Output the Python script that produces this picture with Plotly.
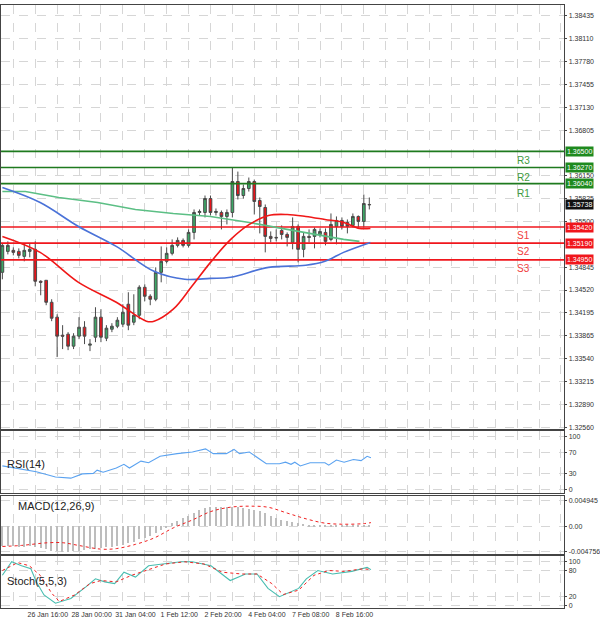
import plotly.graph_objects as go

# H4 bars, index 0..67
opens = [1.34773, 1.35072, 1.35087, 1.35072, 1.35001, 1.35072, 1.35101, 1.34645, 1.34659, 1.34345,
         1.34132, 1.33875, 1.33889, 1.33718, 1.33861, 1.33989, 1.33732, 1.33846, 1.34132, 1.33832,
         1.33960, 1.34003, 1.34032, 1.34317, 1.34060, 1.34160, 1.34559, 1.34431, 1.34388, 1.34773,
         1.34930, 1.35044, 1.35158, 1.35229, 1.35158, 1.35343, 1.35628, 1.35628, 1.35827, 1.35628,
         1.35628, 1.35571, 1.35628, 1.36070, 1.35870, 1.35970, 1.36070, 1.35799, 1.35699, 1.35286,
         1.35272, 1.35371, 1.35314, 1.35200, 1.35428, 1.35101, 1.35286, 1.35286, 1.35314, 1.35343,
         1.35243, 1.35428, 1.35514, 1.35485, 1.35443, 1.35571, 1.35500, 1.35742]
highs = [1.35186, 1.35215, 1.35129, 1.35115, 1.35186, 1.35186, 1.35215, 1.34659, 1.34659, 1.34388,
         1.34174, 1.34018, 1.33918, 1.33903, 1.34132, 1.34075, 1.33818, 1.34274, 1.34246, 1.34018,
         1.34046, 1.34132, 1.34317, 1.34488, 1.34459, 1.34588, 1.34602, 1.34459, 1.34844, 1.35143,
         1.35129, 1.35243, 1.35272, 1.35257, 1.35386, 1.35671, 1.35671, 1.35870, 1.35870, 1.35685,
         1.35656, 1.35671, 1.36269, 1.36212, 1.36027, 1.36127, 1.36098, 1.35842, 1.35742, 1.35357,
         1.35386, 1.35443, 1.35343, 1.35557, 1.35457, 1.35343, 1.35386, 1.35414, 1.35400, 1.35400,
         1.35614, 1.35571, 1.35557, 1.35528, 1.35614, 1.35585, 1.35884, 1.35842]
lows = [1.34673, 1.35029, 1.35015, 1.34972, 1.34930, 1.34987, 1.34573, 1.34445, 1.34303, 1.34075,
        1.33562, 1.33676, 1.33661, 1.33676, 1.33818, 1.33747, 1.33647, 1.33775, 1.33775, 1.33790,
        1.33918, 1.33975, 1.33989, 1.33946, 1.34018, 1.34103, 1.34360, 1.34303, 1.34360, 1.34630,
        1.34901, 1.35015, 1.35129, 1.35129, 1.35129, 1.35243, 1.35585, 1.35557, 1.35585, 1.35585,
        1.35386, 1.35457, 1.35557, 1.35813, 1.35827, 1.35927, 1.35599, 1.35329, 1.35058, 1.35200,
        1.35215, 1.35243, 1.35143, 1.35101, 1.34915, 1.34987, 1.35200, 1.35115, 1.35272, 1.35158,
        1.35215, 1.35172, 1.35386, 1.35329, 1.35414, 1.35414, 1.35414, 1.35671]
closes = [1.35158, 1.35158, 1.35058, 1.35015, 1.35087, 1.35101, 1.34645, 1.34630, 1.34345, 1.34117,
          1.33861, 1.33861, 1.33718, 1.33861, 1.33989, 1.33861, 1.33747, 1.34132, 1.33846, 1.33975,
          1.34003, 1.34089, 1.34203, 1.34018, 1.34160, 1.34559, 1.34431, 1.34388, 1.34773, 1.34930,
          1.35044, 1.35158, 1.35229, 1.35158, 1.35343, 1.35628, 1.35642, 1.35827, 1.35628, 1.35642,
          1.35571, 1.35628, 1.36070, 1.35870, 1.35970, 1.36070, 1.35785, 1.35713, 1.35286, 1.35257,
          1.35265, 1.35314, 1.35272, 1.35428, 1.35101, 1.35286, 1.35272, 1.35386, 1.35357, 1.35215,
          1.35457, 1.35514, 1.35428, 1.35428, 1.35571, 1.35500, 1.35756, 1.35738]
bars = list(range(len(closes)))

# moving averages
ma_red_x = [0, 6.9, 13.9, 20.8, 26.3, 27.7, 31.2, 34.6, 38, 41.7, 45.1, 48.6, 52, 55.4, 58.9, 62.3, 65.2, 67.2]
ma_red = [1.35286, 1.35058, 1.34630, 1.34345, 1.34075, 1.34075, 1.34246, 1.34573, 1.34915, 1.35243,
          1.35457, 1.35585, 1.35599, 1.35571, 1.35528, 1.35485, 1.35400, 1.35400]
ma_blue_x = [0, 6.9, 13.9, 20.8, 27.7, 33.3, 38, 41.7, 48.6, 55.4, 58.9, 62.3, 67.2]
ma_blue = [1.35984, 1.35770, 1.35428, 1.35143, 1.34787, 1.34673, 1.34687, 1.34702, 1.34844, 1.34873,
           1.34930, 1.35058, 1.35200]
ma_green_x = [0, 4.2, 10.3, 17.4, 24.3, 31.2, 38, 45.1, 52, 58.9, 62.3, 65.2]
ma_green = [1.35927, 1.35927, 1.35842, 1.35770, 1.35671, 1.35614, 1.35571, 1.35485, 1.35386, 1.35286,
            1.35243, 1.35215]

# pivot levels
res_names = ["R3", "R2", "R1"]
res_levels = [1.36500, 1.36270, 1.36040]
sup_names = ["S1", "S2", "S3"]
sup_levels = [1.35420, 1.35190, 1.34950]
last_price = 1.35738

price_ticks = [1.38435, 1.38110, 1.37780, 1.37455, 1.37130, 1.36805, 1.36150, 1.35825, 1.35500,
               1.34845, 1.34520, 1.34195, 1.33865, 1.33540, 1.33215, 1.32890, 1.32560]

# RSI(14)
rsi_x = [0, 6.2, 9.7, 12.5, 14.6, 16.6, 17.3, 18.4, 20.8, 22.2, 23.2, 25.3, 26.7, 28.8, 31.9, 34.7,
         37.1, 38.5, 40.9, 42.3, 43.3, 45.1, 48.2, 50.6, 51.7, 52.7, 53.4, 54.4, 56.2, 58.9, 59.6, 61,
         62.4, 64.1, 65.5, 66.6, 67.3]
rsi = [44, 33, 23, 21, 29, 30, 36, 32, 40, 47, 40, 53, 50, 62, 67, 70, 76, 67, 67, 75, 67, 70, 48, 48,
       51, 47, 51, 44, 50, 50, 45.5, 55, 51, 56, 54, 62, 59.5]

# MACD(12,26,9)
macd_hist = [-0.0037, -0.0038, -0.0038, -0.0039, -0.0039, -0.0038, -0.0040, -0.0042, -0.0044, -0.0046,
             -0.0047, -0.0048, -0.0048, -0.0047, -0.0046, -0.0045, -0.0044, -0.0043, -0.0042, -0.0040,
             -0.0039, -0.0037, -0.0035, -0.0032, -0.0029, -0.0025, -0.0022, -0.0018, -0.0013, -0.0008,
             -0.0002, 0.0005, 0.0010, 0.0015, 0.0020, 0.0025, 0.0030, 0.0034, 0.0036, 0.0037,
             0.0037, 0.0036, 0.0037, 0.0036, 0.0034, 0.0033, 0.0031, 0.0028, 0.0024, 0.0019,
             0.0015, 0.0012, 0.0009, 0.0007, 0.0005, 0.0004, 0.0003, 0.0003, 0.0002, 0.0002,
             0.0002, 0.0002, 0.0001, 0.0001, 0.0001, 0.0001, 0.0002, 0.0003]
macd_sig_x = [0, 3.5, 8.3, 11.1, 13.9, 18, 20.8, 24.3, 27.7, 31.2, 34.7, 38.1, 41.6, 45.1, 48.5, 52,
              55.5, 58.9, 62.4, 65.9, 67.3]
macd_sig = [-0.0038, -0.0036, -0.0031, -0.0031, -0.0036, -0.0043, -0.0042, -0.0034, -0.0022, -0.0003,
            0.0012, 0.0028, 0.0036, 0.0038, 0.0036, 0.0025, 0.0014, 0.0006, 0.0004, 0.0005, 0.0007]

# Stoch(5,5,3)
st_main_x = [0, 1.7, 3.5, 5.2, 6.2, 7.6, 9.7, 12.5, 15.3, 17, 18.7, 20.5, 22.2, 24.3, 26.7, 29.8,
             32.6, 34.7, 38.1, 41.6, 44.4, 46.5, 48.5, 50.6, 52.7, 54.1, 55.5, 57.6, 60.3, 63.8, 66.6, 67.3]
st_main = [69, 100, 91, 84, 54, 24, 5, 16, 43, 61, 54, 50, 76, 65, 91, 95, 100, 100, 91, 57, 72, 72,
           39, 20, 31, 39, 61, 80, 72, 78, 87, 82]
st_sig_x = [0, 2.8, 4.9, 6.9, 9, 10.4, 13.2, 16, 18, 20.8, 23.6, 26.4, 29.8, 33.3, 36.8, 40.2, 43.7,
            46.5, 49.2, 51.3, 54.1, 56.9, 59.6, 62.4, 65.9, 67.3]
st_sig = [80, 98, 91, 69, 28, 9, 24, 50, 57, 54, 69, 80, 95, 100, 95, 76, 72, 72, 50, 25, 35, 69, 80,
          78, 84, 82]

label_idx = [-2, 6, 14, 22, 30, 38, 46, 54, 62]
label_text = ["25 Jan 08:00", "26 Jan 16:00", "28 Jan 00:00", "31 Jan 04:00", "1 Feb 12:00",
              "2 Feb 20:00", "4 Feb 04:00", "7 Feb 08:00", "8 Feb 16:00"]

W, H = 600, 626
XR = [-0.25, 102.6]
XD = [0, 568 / W]


def dom(top, bottom):
    return [1 - bottom / H, 1 - top / H]


fig = go.Figure()

fig.add_trace(go.Candlestick(
    x=bars, open=opens, high=highs, low=lows, close=closes,
    increasing=dict(fillcolor="#3ca866", line=dict(color="#4a4a4a", width=1)),
    decreasing=dict(fillcolor="#e8141a", line=dict(color="#4a4a4a", width=1)),
    whiskerwidth=0, xaxis="x", yaxis="y", showlegend=False))

for lv in res_levels:
    fig.add_trace(go.Scatter(x=XR, y=[lv, lv], mode="lines", line=dict(color="#1e7a1e", width=1.6),
                             xaxis="x", yaxis="y", showlegend=False, hoverinfo="skip"))
for lv in sup_levels:
    fig.add_trace(go.Scatter(x=XR, y=[lv, lv], mode="lines", line=dict(color="#f0161c", width=1.6),
                             xaxis="x", yaxis="y", showlegend=False, hoverinfo="skip"))

fig.add_trace(go.Scatter(x=ma_green_x, y=ma_green, mode="lines", line=dict(color="#5cbf85", width=1.6),
                         xaxis="x", yaxis="y", showlegend=False))
fig.add_trace(go.Scatter(x=ma_blue_x, y=ma_blue, mode="lines", line=dict(color="#4a72d8", width=1.6, shape="spline"),
                         xaxis="x", yaxis="y", showlegend=False))
fig.add_trace(go.Scatter(x=ma_red_x, y=ma_red, mode="lines", line=dict(color="#f01818", width=1.6, shape="spline"),
                         xaxis="x", yaxis="y", showlegend=False))

fig.add_trace(go.Scatter(x=rsi_x, y=rsi, mode="lines", line=dict(color="#5aa2f0", width=1.1),
                         xaxis="x2", yaxis="y2", showlegend=False))

fig.add_trace(go.Bar(x=bars, y=macd_hist, width=0.25, marker=dict(color="#bdbdbd", line=dict(width=0)),
                     xaxis="x3", yaxis="y3", showlegend=False))
fig.add_trace(go.Scatter(x=macd_sig_x, y=macd_sig, mode="lines", line=dict(color="#f02020", width=1, dash="dot", shape="spline"),
                         xaxis="x3", yaxis="y3", showlegend=False))

fig.add_trace(go.Scatter(x=st_main_x, y=st_main, mode="lines", line=dict(color="#48bdb0", width=1.1),
                         xaxis="x4", yaxis="y4", showlegend=False))
fig.add_trace(go.Scatter(x=st_sig_x, y=st_sig, mode="lines", line=dict(color="#f02020", width=1, dash="dot"),
                         xaxis="x4", yaxis="y4", showlegend=False))

grid_idx = list(range(-2, 103, 4))
tickfont = dict(family="Arial", size=7, color="#333")
axline = dict(showline=True, linecolor="#444", linewidth=1, mirror=True)


def xax(anchor, show):
    return dict(domain=XD, range=XR, anchor=anchor, showgrid=False, zeroline=False,
                tickvals=[i + 2.3 for i in label_idx] if show else [], ticktext=label_text if show else [],
                tickfont=tickfont, ticks="", showticklabels=show,
                minor=dict(tickvals=grid_idx, showgrid=True, gridcolor="#d6d6d6", griddash="dash", gridwidth=1),
                **axline)


def yax(anchor, d, r, tv, tt=None):
    return dict(domain=d, range=r, anchor=anchor, side="right", tickvals=tv, ticktext=tt,
                tickfont=tickfont, ticks="outside", ticklen=2, tickcolor="#444",
                showgrid=True, gridcolor="#d6d6d6", griddash="dash", zeroline=False, **axline)


fig.update_layout(
    width=W, height=H, margin=dict(l=0, r=0, t=0, b=0),
    paper_bgcolor="white", plot_bgcolor="white", bargap=0,
    xaxis=xax("y", False), xaxis2=xax("y2", False), xaxis3=xax("y3", False), xaxis4=xax("y4", True),
    yaxis=yax("x", dom(5, 430), [1.32530, 1.38592], price_ticks, [f"{v:.5f}" for v in price_ticks]),
    yaxis2=yax("x2", dom(432, 494), [-7.3, 109], [0, 30, 70, 100]),
    yaxis3=yax("x3", dom(497, 555), [-0.00524, 0.00568], [-0.004756, 0.0, 0.004945],
               ["-0.004756", "0.00", "0.004945"]),
    yaxis4=yax("x4", dom(557, 609), [-6, 113], [0, 20, 80, 100]),
)
fig.update_layout(xaxis_rangeslider_visible=False)

# right-side level boxes
box_x = 568 / W + 0.002
for lv in res_levels:
    fig.add_annotation(x=box_x, y=lv, xref="paper", yref="y", text=f"{lv:.5f}", showarrow=False,
                       xanchor="left", bgcolor="#1e8a1e", font=dict(family="Arial", size=7, color="white"),
                       borderpad=1)
for lv in sup_levels:
    fig.add_annotation(x=box_x, y=lv, xref="paper", yref="y", text=f"{lv:.5f}", showarrow=False,
                       xanchor="left", bgcolor="#f0161c", font=dict(family="Arial", size=7, color="white"),
                       borderpad=1)
fig.add_annotation(x=box_x, y=last_price, xref="paper", yref="y", text=f"{last_price:.5f}",
                   showarrow=False, xanchor="left", bgcolor="#111", font=dict(family="Arial", size=7, color="white"),
                   borderpad=1)

for name, lv in zip(res_names, res_levels):
    fig.add_annotation(x=535 / W, y=lv, xref="paper", yref="y", text=name, showarrow=False,
                       yanchor="top", yshift=-2, font=dict(family="Arial", size=10, color="#3c9a3c"))
for name, lv in zip(sup_names, sup_levels):
    fig.add_annotation(x=535 / W, y=lv, xref="paper", yref="y", text=name, showarrow=False,
                       yanchor="top", yshift=-1, font=dict(family="Arial", size=10, color="#f04040"))

for txt, px, py in [("RSI(14)", 4, 465), ("MACD(12,26,9)", 15, 507), ("Stoch(5,5,3)", 4, 582)]:
    fig.add_annotation(x=px / W, y=1 - py / H, xref="paper", yref="paper", text=txt, showarrow=False,
                       xanchor="left", yanchor="middle", font=dict(family="Arial", size=11, color="#222"))

fig.write_html("out.html", config={"displayModeBar": False},
               post_script="document.body.style.margin='0';")
